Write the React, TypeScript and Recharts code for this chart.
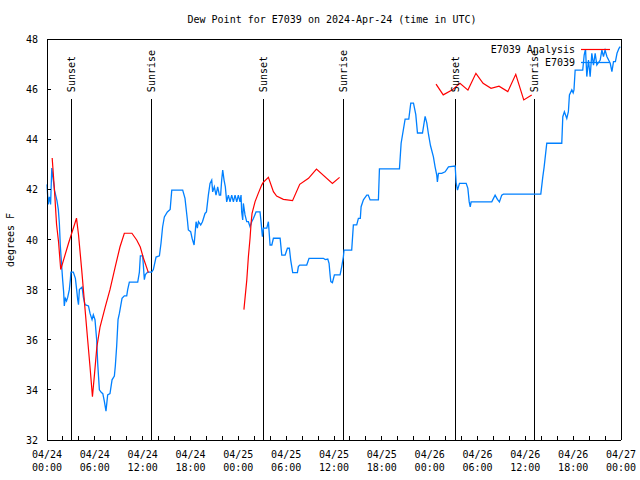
import {
  LineChart,
  Line,
  XAxis,
  YAxis,
  ReferenceLine,
  ReferenceDot,
} from 'recharts';

// hours since 04/24 00:00 UTC, dew point in deg F
const blueDay1: [number, number][] = [
  [0, 42.2], [0.15, 41.4], [0.3, 41.7], [0.45, 41.4], [0.6, 42.85], [0.8, 42.35],
  [0.95, 41.95], [1.25, 41.55], [1.42, 41.2], [1.55, 40.65], [1.67, 39.75], [1.84, 38.95],
  [1.96, 38.4], [2.09, 37.9], [2.17, 37.35], [2.3, 37.65], [2.45, 37.55], [2.6, 37.7],
  [2.8, 38.0], [2.93, 38.4], [3.0, 38.7], [3.3, 38.7], [3.56, 38.45], [3.72, 38.0],
  [3.85, 37.6], [3.95, 37.4], [4.06, 38.0], [4.4, 38.1], [4.56, 37.7], [4.77, 37.4],
  [5.2, 37.35], [5.4, 37.05], [5.65, 36.8], [5.81, 37.0], [6.02, 36.8], [6.23, 36.0],
  [6.36, 35.05], [6.57, 34.0], [6.8, 33.9], [7.0, 33.85], [7.19, 33.55], [7.4, 33.15],
  [7.61, 33.8], [7.9, 33.85], [8.16, 34.4], [8.45, 34.55], [8.57, 34.95], [8.74, 35.75],
  [8.91, 36.8], [9.08, 37.05], [9.41, 37.65], [9.7, 37.75], [10.0, 37.75], [10.12, 38.0],
  [10.33, 38.3], [11.38, 38.3], [11.59, 38.7], [11.71, 39.35], [12.0, 39.35], [12.09, 38.95],
  [12.21, 38.4], [12.34, 38.6], [12.63, 38.7], [13.13, 38.7], [13.34, 38.8], [13.68, 39.3],
  [14.1, 39.35], [14.3, 39.85], [14.5, 40.5], [14.72, 40.9], [15.1, 41.1], [15.45, 41.2],
  [15.65, 41.97], [17.02, 41.97], [17.31, 41.64], [17.61, 40.78], [17.73, 40.38], [18.02, 40.31],
  [18.2, 40.05], [18.45, 39.78], [18.7, 40.71], [18.86, 40.45], [19.0, 40.71], [19.28, 40.58],
  [19.5, 40.71], [19.82, 41.04], [20.0, 41.1], [20.24, 41.77], [20.45, 42.24], [20.66, 42.37],
  [20.78, 41.9], [20.99, 42.1], [21.2, 41.77], [21.41, 42.1], [21.62, 41.77], [21.78, 41.77],
  [21.91, 42.37], [22.04, 42.77], [22.21, 42.37], [22.37, 42.1], [22.54, 41.5], [22.75, 41.77],
  [22.96, 41.5], [23.17, 41.77], [23.38, 41.5], [23.59, 41.77], [23.8, 41.5],
];

const blueDay2: [number, number][] = [
  [24.0, 41.77], [24.21, 41.5], [24.34, 41.77], [24.42, 41.1], [24.55, 40.78], [24.63, 41.44],
  [24.84, 40.98], [25.05, 40.71], [25.26, 40.71], [25.47, 40.51], [25.68, 40.71], [25.89, 40.84],
  [26.22, 41.1], [26.72, 41.1], [26.85, 40.71], [27.02, 40.11], [27.15, 40.45], [27.57, 40.45],
  [27.77, 40.71], [27.98, 39.78], [28.2, 39.78], [28.4, 40.05], [29.24, 40.05], [29.45, 39.38],
  [29.87, 39.38], [30.16, 39.65], [30.4, 39.65], [30.57, 39.18], [30.82, 38.68], [31.41, 38.68],
  [31.53, 38.92], [31.7, 38.98], [32.58, 38.98], [32.87, 39.25], [34.67, 39.25], [34.9, 39.2],
  [35.22, 39.22], [35.38, 39.05], [35.51, 38.59], [35.6, 38.32], [35.8, 38.28], [36.05, 38.59],
  [36.76, 38.59], [36.97, 38.92], [37.18, 39.32], [37.26, 39.58], [38.22, 39.58], [38.43, 40.58],
  [38.85, 40.58], [39.06, 40.84], [39.3, 40.84], [39.4, 41.31], [39.69, 41.58], [40.11, 41.77],
  [40.3, 41.77], [40.53, 41.58], [41.57, 41.58], [41.7, 42.82], [44.21, 42.82], [44.42, 43.84],
  [44.92, 44.8], [45.38, 44.8], [45.63, 45.44], [45.97, 45.44], [46.26, 44.98], [46.47, 44.25],
  [47.1, 44.25], [47.43, 44.91], [47.64, 44.65], [47.85, 44.2],
];

const blueDay3: [number, number][] = [
  [48.1, 43.75], [48.47, 43.3], [48.68, 42.9], [48.89, 42.57], [48.97, 42.3], [49.1, 42.64],
  [49.52, 42.64], [49.94, 42.7], [50.36, 42.9], [51.2, 42.93], [51.32, 42.27], [51.49, 41.97],
  [51.74, 42.24], [52.58, 42.24], [52.79, 42.04], [52.96, 41.5], [53.09, 41.3], [53.2, 41.5],
  [55.79, 41.5], [56.21, 41.77], [56.5, 41.6], [56.75, 41.5], [57.04, 41.77], [57.25, 41.81],
  [61.94, 41.81], [62.19, 42.5], [62.36, 42.9], [62.69, 43.84], [64.57, 43.84], [64.7, 44.9],
  [64.9, 45.1], [65.2, 44.83], [65.4, 45.1], [65.53, 45.77], [65.83, 45.97], [66.0, 45.85],
  [66.1, 45.97], [66.25, 46.76], [67.2, 46.76], [67.38, 47.36], [67.55, 47.6], [67.71, 46.5],
  [67.92, 47.16], [68.13, 46.5], [68.34, 47.43], [68.55, 46.96], [68.76, 47.43], [68.97, 46.96],
  [69.39, 47.16], [69.6, 47.56], [69.8, 47.3], [70.0, 47.56], [70.23, 47.3], [70.65, 47.03],
  [70.86, 46.7], [71.06, 47.1], [71.3, 47.1], [71.5, 47.43], [71.75, 47.63], [71.9, 47.7],
];

// E7039 Analysis, three separate runs
const redRun1: [number, number][] = [
  [0.65, 43.25], [0.95, 41.9], [1.2, 40.6], [1.45, 39.9], [1.72, 38.8], [2.7, 39.85],
  [3.7, 40.85], [3.95, 40.2], [4.35, 38.8], [4.75, 37.3], [5.1, 36.0], [5.4, 34.9],
  [5.7, 33.73], [5.95, 34.6], [6.25, 35.7], [6.65, 36.5], [7.3, 37.3], [7.9, 38.0],
  [8.55, 38.9], [9.15, 39.7], [9.7, 40.25], [10.65, 40.25], [11.25, 39.98], [11.7, 39.7],
  [12.1, 39.25], [12.72, 38.68],
];
const redRun2: [number, number][] = [
  [24.7, 37.2], [25.06, 38.38], [25.26, 39.31], [25.47, 40.05], [25.6, 40.65], [25.72, 41.04],
  [26.1, 41.51], [26.5, 41.84], [26.93, 42.17], [27.1, 42.27], [27.77, 42.48], [28.4, 41.91],
  [28.8, 41.73], [29.65, 41.6], [30.8, 41.55], [31.7, 42.2], [32.8, 42.44], [33.8, 42.81],
  [35.8, 42.24], [36.7, 42.48],
];
const redRun3: [number, number][] = [
  [48.8, 46.2], [49.7, 45.77], [50.8, 45.96], [51.8, 46.23], [52.8, 45.96], [53.8, 46.63],
  [54.7, 46.23], [55.7, 46.03], [56.7, 46.12], [57.8, 45.9], [58.8, 46.59], [59.8, 45.57],
  [60.8, 45.77],
];

const sunEvents = ['Sunset', 'Sunrise', 'Sunset', 'Sunrise', 'Sunset', 'Sunrise'];
const sunHours = [3.05, 13.09, 27.14, 37.18, 51.19, 61.15];

const xMinorTicks = [
  0, 2, 4, 6, 8, 10, 12, 14, 16, 18, 20, 22, 24, 26, 28, 30, 32, 34, 36,
  38, 40, 42, 44, 46, 48, 50, 52, 54, 56, 58, 60, 62, 64, 66, 68, 70, 72,
];
const xLabelHours = [0, 6, 12, 18, 24, 30, 36, 42, 48, 54, 60, 66, 72];
const xLabelDates = ['04/24', '04/24', '04/24', '04/24', '04/25', '04/25', '04/25', '04/25', '04/26', '04/26', '04/26', '04/26', '04/27'];
const xLabelTimes = ['00:00', '06:00', '12:00', '18:00', '00:00', '06:00', '12:00', '18:00', '00:00', '06:00', '12:00', '18:00', '00:00'];
const yTicks = [32, 34, 36, 38, 40, 42, 44, 46, 48];

const FONT = '"DejaVu Sans Mono", monospace';
const BLUE = '#0080ff';
const RED = '#ff0000';

const toPts = (arr: [number, number][]) => arr.map(([h, v]) => ({ h, v }));
const blueData = toPts([...blueDay1, ...blueDay2, ...blueDay3]);

function BottomTick({ x, y, payload }: any) {
  const i = xLabelHours.indexOf(payload.value);
  return (
    <g>
      <line x1={x} y1={y} x2={x} y2={y - 4} stroke="#000" shapeRendering="crispEdges" />
      {i >= 0 && (
        <text x={x} y={y} textAnchor="middle" fontFamily={FONT} fontSize={10} fill="#000">
          <tspan x={x} dy={18}>{xLabelDates[i]}</tspan>
          <tspan x={x} dy={13}>{xLabelTimes[i]}</tspan>
        </text>
      )}
    </g>
  );
}

function TopTick({ x, y }: any) {
  return <line x1={x} y1={y} x2={x} y2={y + 4} stroke="#000" shapeRendering="crispEdges" />;
}

function LeftTick({ x, y, payload }: any) {
  return (
    <g>
      <line x1={x} y1={y} x2={x + 4} y2={y} stroke="#000" shapeRendering="crispEdges" />
      <text x={x - 9} y={y + 4} textAnchor="end" fontFamily={FONT} fontSize={10} fill="#000">
        {payload.value}
      </text>
    </g>
  );
}

function RightTick({ x, y }: any) {
  return <line x1={x} y1={y} x2={x - 4} y2={y} stroke="#000" shapeRendering="crispEdges" />;
}

const axisLine = { stroke: '#000', shapeRendering: 'crispEdges' };

export default function App() {
  return (
    <div style={{ position: 'absolute', left: 0, top: 0, width: 640, height: 480, background: '#fff' }}>
      <LineChart width={640} height={480} margin={{ top: 0, right: 0, bottom: 0, left: 0 }}>
        <XAxis
          dataKey="h"
          type="number"
          domain={[0, 72]}
          ticks={xMinorTicks}
          tick={<BottomTick />}
          tickLine={false}
          tickSize={0}
          tickMargin={0}
          height={40}
          axisLine={axisLine}
          interval={0}
        />
        <XAxis
          xAxisId="top"
          orientation="top"
          dataKey="h"
          type="number"
          domain={[0, 72]}
          ticks={xMinorTicks}
          tick={<TopTick />}
          tickLine={false}
          tickSize={0}
          tickMargin={0}
          height={39}
          axisLine={axisLine}
          interval={0}
        />
        <YAxis
          type="number"
          domain={[32, 48]}
          ticks={yTicks}
          tick={<LeftTick />}
          tickLine={false}
          tickSize={0}
          tickMargin={0}
          width={47}
          axisLine={axisLine}
          interval={0}
        />
        <YAxis
          yAxisId="right"
          orientation="right"
          type="number"
          domain={[32, 48]}
          ticks={yTicks}
          tick={<RightTick />}
          tickLine={false}
          tickSize={0}
          tickMargin={0}
          width={19}
          axisLine={axisLine}
          interval={0}
        />
        {sunHours.map((h, i) => (
          <ReferenceLine
            key={'l' + i}
            segment={[{ x: h, y: 32 }, { x: h, y: 45.6 }]}
            stroke="#000"
            strokeWidth={1}
            shapeRendering="crispEdges"
          />
        ))}
        {sunHours.map((h, i) => (
          <ReferenceDot
            key={'t' + i}
            x={h}
            y={45.88}
            ifOverflow="visible"
            shape={(p: any) => (
              <text
                x={p.cx + 4}
                y={p.cy}
                transform={`rotate(-90 ${p.cx + 4} ${p.cy})`}
                fontFamily={FONT}
                fontSize={10}
                fill="#000"
              >
                {sunEvents[i]}
              </text>
            )}
          />
        ))}
        <Line data={blueData} dataKey="v" stroke={BLUE} strokeWidth={1.3} dot={false} isAnimationActive={false} />
        <Line data={toPts(redRun1)} dataKey="v" stroke={RED} strokeWidth={1.2} dot={false} isAnimationActive={false} />
        <Line data={toPts(redRun2)} dataKey="v" stroke={RED} strokeWidth={1.2} dot={false} isAnimationActive={false} />
        <Line data={toPts(redRun3)} dataKey="v" stroke={RED} strokeWidth={1.2} dot={false} isAnimationActive={false} />
      </LineChart>
      <svg
        width={640}
        height={480}
        style={{ position: 'absolute', left: 0, top: 0, pointerEvents: 'none' }}
      >
        <text x={332} y={23} textAnchor="middle" fontFamily={FONT} fontSize={10} fill="#000">
          Dew Point for E7039 on 2024-Apr-24 (time in UTC)
        </text>
        <text
          x={14}
          y={240}
          transform="rotate(-90 14 240)"
          textAnchor="middle"
          fontFamily={FONT}
          fontSize={10}
          fill="#000"
        >
          degrees F
        </text>
        <text x={575} y={53} textAnchor="end" fontFamily={FONT} fontSize={10} fill="#000">
          E7039 Analysis
        </text>
        <line x1={581} y1={49.5} x2={610} y2={49.5} stroke={RED} strokeWidth={1.2} />
        <text x={575} y={66} textAnchor="end" fontFamily={FONT} fontSize={10} fill="#000">
          E7039
        </text>
        <line x1={581} y1={62.5} x2={610} y2={62.5} stroke={BLUE} strokeWidth={1.3} />
      </svg>
    </div>
  );
}
